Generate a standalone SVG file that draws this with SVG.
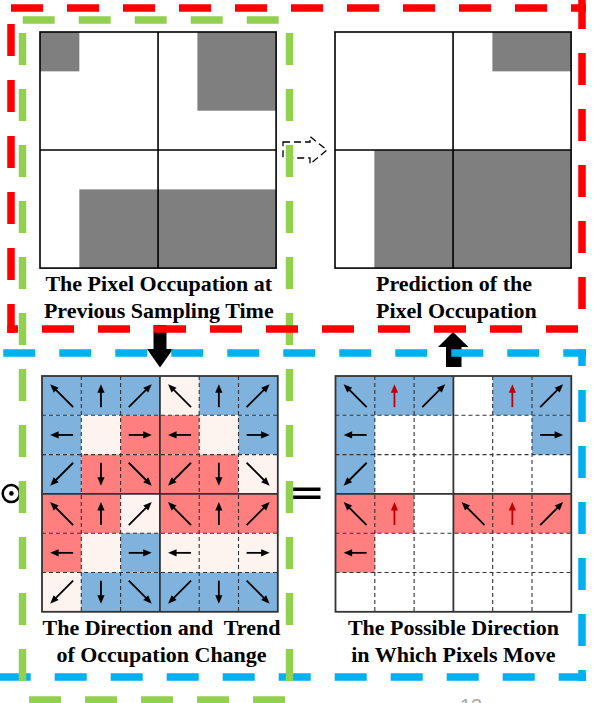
<svg xmlns="http://www.w3.org/2000/svg" width="597" height="703" viewBox="0 0 597 703">
<defs>
<style>
.lbl{font-family:"Liberation Serif","Times New Roman",serif;font-weight:bold;font-size:22px;fill:#000;white-space:pre}
.occ{fill:#7f7f7f}
.gl{stroke:#000;stroke-width:1.6;fill:none}
.b{fill:#7fb3dd}
.r{fill:#ff7f7f}
.p{fill:#fdf3ef}
.w{fill:#fff}
.dl{stroke:#333;stroke-width:1.1;stroke-dasharray:4 3;fill:none}
.sl{stroke:#333;stroke-width:1.8;fill:none}
.fr{stroke-width:7.5;stroke-dasharray:32 24;fill:none}
.red{stroke:#ff0000}
.grn{stroke:#92d050}
.blu{stroke:#00b0f0}
.ar line{stroke:currentColor;stroke-width:1.8}
.ar polygon{fill:currentColor;stroke:none}
.k{color:#000}
.rd{color:#c00000}
</style>
<g id="an" class="ar"><line x1="0" y1="11.5" x2="0" y2="-4"/><polygon points="0,-11.5 -3.6,-3 3.6,-3"/></g>
<g id="ad" class="ar"><line x1="-11.5" y1="11.5" x2="6" y2="-6"/><polygon points="11.5,-11.5 7.97,-3.03 3.03,-7.97"/></g>
</defs>
<rect x="0" y="0" width="597" height="703" fill="#fff"/>

<g id="node-previous">
  <g transform="translate(40,32)">
    <rect class="occ" x="0" y="0" width="39.35" height="39.35"/>
    <rect class="occ" x="157.4" y="0" width="78.7" height="78.7"/>
    <rect class="occ" x="39.35" y="157.4" width="196.75" height="78.7"/>
    <rect class="gl" x="0" y="0" width="236.1" height="236.1"/>
    <line class="gl" x1="118.05" y1="0" x2="118.05" y2="236.1"/>
    <line class="gl" x1="0" y1="118.05" x2="236.1" y2="118.05"/>
  </g>
  <text class="lbl" x="158.8" y="290.5" text-anchor="middle">The Pixel Occupation at</text>
  <text class="lbl" x="158.8" y="318" text-anchor="middle">Previous Sampling Time</text>
</g>

<g id="node-prediction">
  <g transform="translate(335,32)">
    <rect class="occ" x="157.4" y="0" width="78.7" height="39.35"/>
    <rect class="occ" x="39.35" y="118.05" width="196.75" height="118.05"/>
    <rect class="gl" x="0" y="0" width="236.1" height="236.1"/>
    <line class="gl" x1="118.05" y1="0" x2="118.05" y2="236.1"/>
    <line class="gl" x1="0" y1="118.05" x2="236.1" y2="118.05"/>
  </g>
  <text class="lbl" x="376" y="290.5">Prediction of the</text>
  <text class="lbl" x="376" y="318">Pixel Occupation</text>
</g>

<g id="node-direction">
  <g transform="translate(42,376)">
    <rect class="b" x="0" y="0" width="117.9" height="39.3"/>
    <rect class="p" x="117.9" y="0" width="39.3" height="39.3"/>
    <rect class="b" x="157.2" y="0" width="78.6" height="39.3"/>
    <rect class="b" x="0" y="39.3" width="39.3" height="39.3"/>
    <rect class="p" x="39.3" y="39.3" width="39.3" height="39.3"/>
    <rect class="r" x="78.6" y="39.3" width="78.6" height="39.3"/>
    <rect class="p" x="157.2" y="39.3" width="39.3" height="39.3"/>
    <rect class="b" x="196.5" y="39.3" width="39.3" height="39.3"/>
    <rect class="b" x="0" y="78.6" width="39.3" height="39.3"/>
    <rect class="r" x="39.3" y="78.6" width="157.2" height="39.3"/>
    <rect class="p" x="196.5" y="78.6" width="39.3" height="39.3"/>
    <rect class="r" x="0" y="117.9" width="78.6" height="39.3"/>
    <rect class="p" x="78.6" y="117.9" width="39.3" height="39.3"/>
    <rect class="r" x="117.9" y="117.9" width="117.9" height="39.3"/>
    <rect class="r" x="0" y="157.2" width="39.3" height="39.3"/>
    <rect class="p" x="39.3" y="157.2" width="39.3" height="39.3"/>
    <rect class="b" x="78.6" y="157.2" width="39.3" height="39.3"/>
    <rect class="p" x="117.9" y="157.2" width="117.9" height="39.3"/>
    <rect class="p" x="0" y="196.5" width="39.3" height="39.3"/>
    <rect class="b" x="39.3" y="196.5" width="196.5" height="39.3"/>
    <path class="dl" d="M39.3 0V235.8M78.6 0V235.8M157.2 0V235.8M196.5 0V235.8M0 39.3H235.8M0 78.6H235.8M0 157.2H235.8M0 196.5H235.8"/>
    <path class="sl" d="M117.9 0V235.8M0 117.9H235.8"/>
    <rect class="sl" x="0" y="0" width="235.8" height="235.8"/>
    <g class="k">
      <use href="#ad" transform="translate(19.65,19.65) rotate(270)"/>
      <use href="#an" transform="translate(58.95,19.65)"/>
      <use href="#ad" transform="translate(98.25,19.65)"/>
      <use href="#ad" transform="translate(137.55,19.65) rotate(270)"/>
      <use href="#an" transform="translate(176.85,19.65)"/>
      <use href="#ad" transform="translate(216.15,19.65)"/>
      <use href="#an" transform="translate(19.65,58.95) rotate(270)"/>
      <use href="#an" transform="translate(98.25,58.95) rotate(90)"/>
      <use href="#an" transform="translate(137.55,58.95) rotate(270)"/>
      <use href="#an" transform="translate(216.15,58.95) rotate(90)"/>
      <use href="#ad" transform="translate(19.65,98.25) rotate(180)"/>
      <use href="#an" transform="translate(58.95,98.25) rotate(180)"/>
      <use href="#ad" transform="translate(98.25,98.25) rotate(90)"/>
      <use href="#ad" transform="translate(137.55,98.25) rotate(180)"/>
      <use href="#an" transform="translate(176.85,98.25) rotate(180)"/>
      <use href="#ad" transform="translate(216.15,98.25) rotate(90)"/>
      <use href="#ad" transform="translate(19.65,137.55) rotate(270)"/>
      <use href="#an" transform="translate(58.95,137.55)"/>
      <use href="#ad" transform="translate(98.25,137.55)"/>
      <use href="#ad" transform="translate(137.55,137.55) rotate(270)"/>
      <use href="#an" transform="translate(176.85,137.55)"/>
      <use href="#ad" transform="translate(216.15,137.55)"/>
      <use href="#an" transform="translate(19.65,176.85) rotate(270)"/>
      <use href="#an" transform="translate(98.25,176.85) rotate(90)"/>
      <use href="#an" transform="translate(137.55,176.85) rotate(270)"/>
      <use href="#an" transform="translate(216.15,176.85) rotate(90)"/>
      <use href="#ad" transform="translate(19.65,216.15) rotate(180)"/>
      <use href="#an" transform="translate(58.95,216.15) rotate(180)"/>
      <use href="#ad" transform="translate(98.25,216.15) rotate(90)"/>
      <use href="#ad" transform="translate(137.55,216.15) rotate(180)"/>
      <use href="#an" transform="translate(176.85,216.15) rotate(180)"/>
      <use href="#ad" transform="translate(216.15,216.15) rotate(90)"/>
    </g>
  </g>
  <text class="lbl" x="161.5" y="635" text-anchor="middle">The Direction and  Trend</text>
  <text class="lbl" x="161.5" y="661.5" text-anchor="middle">of Occupation Change</text>
</g>

<g id="node-possible">
  <g transform="translate(335.5,376)">
    <rect class="w" x="0" y="0" width="235.8" height="235.8"/>
    <rect class="b" x="0" y="0" width="117.9" height="39.3"/>
    <rect class="b" x="157.2" y="0" width="78.6" height="39.3"/>
    <rect class="b" x="0" y="39.3" width="39.3" height="78.6"/>
    <rect class="b" x="196.5" y="39.3" width="39.3" height="39.3"/>
    <rect class="r" x="0" y="117.9" width="78.6" height="39.3"/>
    <rect class="r" x="117.9" y="117.9" width="117.9" height="39.3"/>
    <rect class="r" x="0" y="157.2" width="39.3" height="39.3"/>
    <path class="dl" d="M39.3 0V235.8M78.6 0V235.8M157.2 0V235.8M196.5 0V235.8M0 39.3H235.8M0 78.6H235.8M0 157.2H235.8M0 196.5H235.8"/>
    <path class="sl" d="M117.9 0V235.8M0 117.9H235.8"/>
    <rect class="sl" x="0" y="0" width="235.8" height="235.8"/>
    <g class="k">
      <use href="#ad" transform="translate(19.65,19.65) rotate(270)"/>
      <use href="#ad" transform="translate(98.25,19.65)"/>
      <use href="#ad" transform="translate(216.15,19.65)"/>
      <use href="#an" transform="translate(19.65,58.95) rotate(270)"/>
      <use href="#an" transform="translate(216.15,58.95) rotate(90)"/>
      <use href="#ad" transform="translate(19.65,98.25) rotate(180)"/>
      <use href="#ad" transform="translate(19.65,137.55) rotate(270)"/>
      <use href="#ad" transform="translate(137.55,137.55) rotate(270)"/>
      <use href="#ad" transform="translate(216.15,137.55)"/>
      <use href="#an" transform="translate(19.65,176.85) rotate(270)"/>
    </g>
    <g class="rd">
      <use href="#an" transform="translate(58.95,19.65)"/>
      <use href="#an" transform="translate(176.85,19.65)"/>
      <use href="#an" transform="translate(58.95,137.55)"/>
      <use href="#an" transform="translate(176.85,137.55)"/>
    </g>
  </g>
  <text class="lbl" x="453.4" y="635" text-anchor="middle">The Possible Direction</text>
  <text class="lbl" x="453.4" y="661.5" text-anchor="middle">in Which Pixels Move</text>
</g>

<g id="operators">
  <circle cx="11.2" cy="493.6" r="8.5" fill="none" stroke="#000" stroke-width="2.5"/>
  <circle cx="11.4" cy="493.4" r="2.3" fill="#000"/>
  <rect x="290" y="487.5" width="30.5" height="3.5" fill="#000"/>
  <rect x="290" y="495.5" width="30.5" height="3.5" fill="#000"/>
</g>

<g id="connectors">
  <polygon points="283,142 310,142 310,136.5 327,150 310,164 310,158 283,158" fill="none" stroke="#000" stroke-width="1.3" stroke-dasharray="7 4"/>
  <polygon points="153.5,325 166.5,325 166.5,349 173,349 160,367.5 147,349 153.5,349" fill="#000"/>
  <polygon points="453,332 468.5,347 461.5,347 461.5,367 446,367 446,347 438,347" fill="#000"/>
</g>

<g id="frame-blue" class="fr blu">
  <line x1="3.3" y1="353" x2="586" y2="353"/>
  <line x1="582" y1="349.25" x2="582" y2="681" stroke-dashoffset="15.25"/>
  <line x1="-1.3" y1="677" x2="586" y2="677"/>
</g>
<g id="frame-green" class="fr grn">
  <line x1="22.7" y1="20" x2="293" y2="20"/>
  <line x1="22.5" y1="33" x2="22.5" y2="704"/>
  <line x1="289.5" y1="33" x2="289.5" y2="704"/>
  <line x1="29" y1="700" x2="293" y2="700"/>
</g>
<g id="frame-red" class="fr red">
  <line x1="11" y1="8" x2="586" y2="8"/>
  <line x1="582" y1="-3" x2="582" y2="333"/>
  <line x1="7.3" y1="329" x2="586" y2="329" stroke-dashoffset="21.3"/>
  <line x1="11" y1="24" x2="11" y2="333"/>
</g>

<text x="460" y="712.5" font-family="'Liberation Sans', Arial, sans-serif" font-size="20" fill="#a6a6a6">13</text>
</svg>
